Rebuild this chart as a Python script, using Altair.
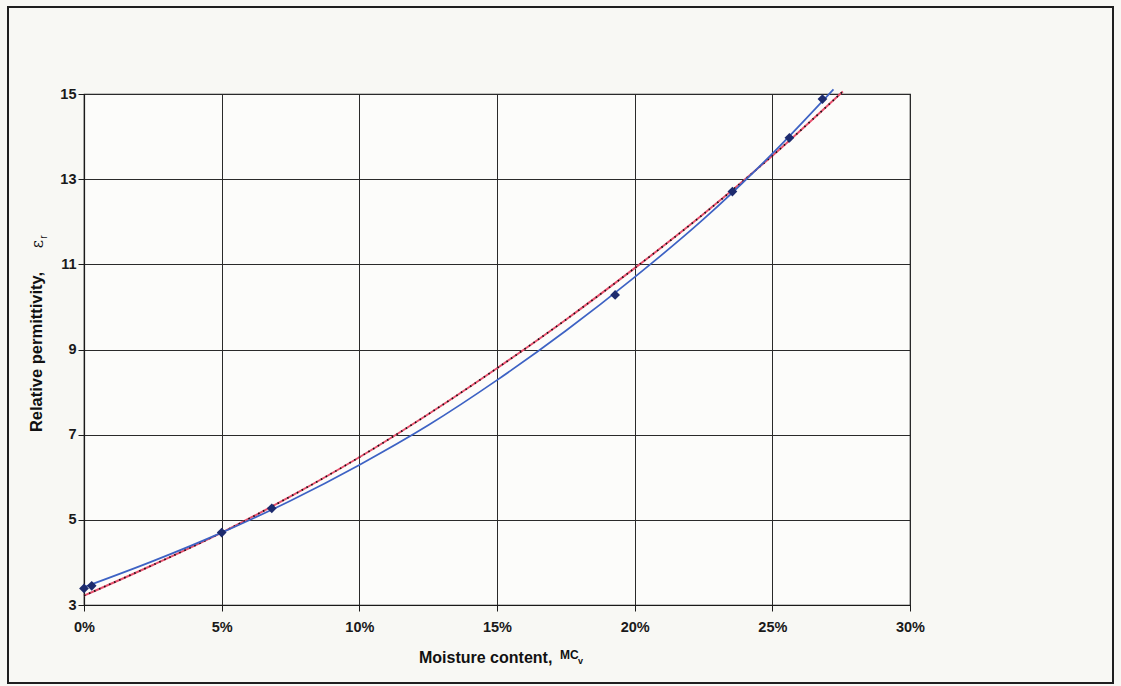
import altair as alt
import pandas as pd

# Measured samples: volumetric moisture content (fraction) vs relative permittivity
meas_mc = [0.000, 0.0028, 0.050, 0.0682, 0.1929, 0.2355, 0.2562, 0.2682]
meas_er = [3.39, 3.45, 4.70, 5.27, 10.28, 12.71, 13.97, 14.88]

# Fitted trend through the measurements (blue)
fit_mc = [0.000, 0.025, 0.050, 0.075, 0.100, 0.125, 0.150, 0.175, 0.200, 0.225, 0.250, 0.2722]
fit_er = [3.42, 4.03, 4.70, 5.45, 6.29, 7.22, 8.28, 9.44, 10.70, 12.06, 13.60, 15.11]

# Model curve (red, overlaid by black dots)
model_mc = [0.000, 0.025, 0.050, 0.075, 0.100, 0.125, 0.150, 0.175, 0.200, 0.225, 0.250, 0.2756]
model_er = [3.22, 3.94, 4.70, 5.55, 6.47, 7.48, 8.56, 9.70, 10.91, 12.18, 13.55, 15.06]

x_ticks = [0, 0.05, 0.10, 0.15, 0.20, 0.25, 0.30]
y_ticks = [3, 5, 7, 9, 11, 13, 15]

W, H = 826, 511

meas = pd.DataFrame({"mc": meas_mc, "er": meas_er})
fit = pd.DataFrame({"mc": fit_mc, "er": fit_er})
model = pd.DataFrame({"mc": model_mc, "er": model_er})

axis_style = dict(
    title=None, grid=True, gridColor="#2a2a2a", gridWidth=1, gridOpacity=1,
    domainColor="#1a1a1a", domainWidth=1.2, tickColor="#1a1a1a", tickSize=6,
    labelFont="Liberation Sans", labelFontWeight="bold", labelFontSize=14.5,
    labelColor="#1a1a1a", labelFlush=False, labelOverlap=False,
)

x_enc = alt.X(
    "mc:Q",
    scale=alt.Scale(domain=[0, 0.30], nice=False, zero=False),
    axis=alt.Axis(values=x_ticks, format=".0%", labelPadding=9, **axis_style),
)
y_enc = alt.Y(
    "er:Q",
    scale=alt.Scale(domain=[3, 15], nice=False, zero=False),
    axis=alt.Axis(values=y_ticks, labelPadding=2, **axis_style),
)

one = pd.DataFrame({"k": [0]})

# outer border around the whole figure (outline only)
frame = alt.Chart(one).mark_rect(
    fillOpacity=0, stroke="#1f1f1f", strokeWidth=2
).encode(
    x=alt.value(-76), x2=alt.value(1029), y=alt.value(-87), y2=alt.value(589)
)

axes = alt.Chart(meas).mark_point(opacity=0).encode(x=x_enc, y=y_enc)

model_red = alt.Chart(model).mark_line(
    color="#e8506e", strokeWidth=2, interpolate="monotone"
).encode(x="mc:Q", y="er:Q")

model_dots = alt.Chart(model).mark_line(
    color="#111111", strokeWidth=1.7, strokeDash=[1.5, 4], interpolate="monotone"
).encode(x="mc:Q", y="er:Q")

fit_line = alt.Chart(fit).mark_line(
    color="#3d62c4", strokeWidth=1.7, interpolate="monotone"
).encode(x="mc:Q", y="er:Q")

points = alt.Chart(meas).mark_point(
    shape="diamond", filled=True, color="#1d2b6e", size=95, opacity=1
).encode(x="mc:Q", y="er:Q")

txt = dict(font="Liberation Sans", fontWeight="bold", color="#111111")

x_title = alt.Chart(one).mark_text(
    text="Moisture content,", fontSize=16, align="left", baseline="middle", **txt
).encode(x=alt.value(335), y=alt.value(53 + H))
x_title_mc = alt.Chart(one).mark_text(
    text="MC", fontSize=12, align="left", baseline="middle", **txt
).encode(x=alt.value(476), y=alt.value(50 + H))
x_title_v = alt.Chart(one).mark_text(
    text="v", fontSize=9, align="left", baseline="middle", **txt
).encode(x=alt.value(494), y=alt.value(56 + H))

y_title = alt.Chart(one).mark_text(
    text="Relative permittivity,", fontSize=16.5, angle=270,
    align="center", baseline="middle", **txt
).encode(x=alt.value(-47), y=alt.value(258))
y_title_eps = alt.Chart(one).mark_text(
    text="ε", fontSize=16, angle=270, align="center", baseline="middle",
    font="DejaVu Serif", color="#111111"
).encode(x=alt.value(-46), y=alt.value(150))
y_title_r = alt.Chart(one).mark_text(
    text="r", fontSize=10, angle=270, align="center", baseline="middle",
    font="Liberation Sans", color="#111111"
).encode(x=alt.value(-40), y=alt.value(143))

chart = alt.layer(
    frame, axes, model_red, model_dots, fit_line, points,
    x_title, x_title_mc, x_title_v, y_title, y_title_eps, y_title_r,
).properties(
    width=W, height=H,
    autosize=alt.AutoSizeParams(type="none"),
    padding={"left": 84, "top": 94, "right": 211, "bottom": 81},
    background="#f8f8f4",
).configure_view(stroke="#1a1a1a", strokeWidth=1.2, fill="#fcfcfa")

chart.save("out.html", embed_options={"renderer": "svg", "actions": False})
